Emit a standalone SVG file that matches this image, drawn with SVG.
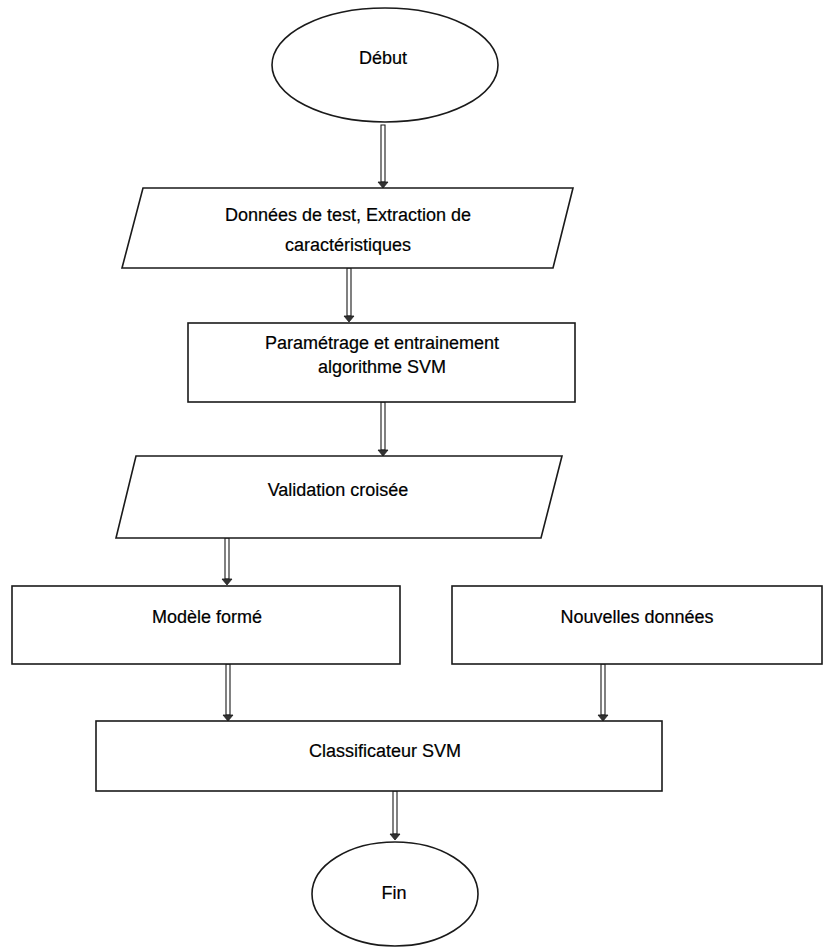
<svg xmlns="http://www.w3.org/2000/svg" width="826" height="947" viewBox="0 0 826 947">
  <defs>
    <style>
      .shape { fill: #ffffff; stroke: #1a1a1a; stroke-width: 1.6; }
      .label { font-family: "Liberation Sans", Arial, sans-serif; font-size: 18px; fill: #000000; text-anchor: middle; stroke: #000000; stroke-width: 0.2; }
      .shaft { fill: #ffffff; stroke: #1a1a1a; stroke-width: 1.1; }
      .head { fill: #333333; stroke: #1a1a1a; stroke-width: 0.8; }
    </style>
  </defs>
  <rect width="826" height="947" fill="#ffffff"/>

  <!-- hollow shafts ending in small dark heads, all pointing down -->
  <g id="connectors">
    <path class="shaft" d="M381,125 H385 V182 H381 Z"/>
    <path class="head" d="M378,182 H388 L383,188 Z"/>
    <path class="shaft" d="M347,268 H351 V316 H347 Z"/>
    <path class="head" d="M344,316 H354 L349,322 Z"/>
    <path class="shaft" d="M381,402 H385 V450 H381 Z"/>
    <path class="head" d="M378,450 H388 L383,456 Z"/>
    <path class="shaft" d="M225,538 H229 V579 H225 Z"/>
    <path class="head" d="M222,579 H232 L227,585 Z"/>
    <path class="shaft" d="M226,664 H230 V715 H226 Z"/>
    <path class="head" d="M223,715 H233 L228,721 Z"/>
    <path class="shaft" d="M601,664 H605 V715 H601 Z"/>
    <path class="head" d="M598,715 H608 L603,721 Z"/>
    <path class="shaft" d="M393,791 H397 V834 H393 Z"/>
    <path class="head" d="M390,834 H400 L395,840 Z"/>
  </g>

  <g id="debut">
    <ellipse class="shape" cx="385" cy="65" rx="113" ry="57"/>
    <text class="label" x="383" y="64">Début</text>
  </g>

  <g id="donnees-test">
    <polygon class="shape" points="143,188 573,188 553,268 122,268"/>
    <text class="label" x="348" y="221">Données de test, Extraction de</text>
    <text class="label" x="348" y="251">caractéristiques</text>
  </g>

  <g id="parametrage">
    <rect class="shape" x="188" y="323" width="387" height="79"/>
    <text class="label" x="382" y="349">Paramétrage et entrainement</text>
    <text class="label" x="382" y="373">algorithme SVM</text>
  </g>

  <g id="validation">
    <polygon class="shape" points="136,456 562,456 541,538 116,538"/>
    <text class="label" x="338" y="496">Validation croisée</text>
  </g>

  <g id="modele">
    <rect class="shape" x="12" y="586" width="388" height="78"/>
    <text class="label" x="207" y="623">Modèle formé</text>
  </g>

  <g id="nouvelles">
    <rect class="shape" x="452" y="586" width="370" height="78"/>
    <text class="label" x="637" y="623">Nouvelles données</text>
  </g>

  <g id="classificateur">
    <rect class="shape" x="96" y="721" width="566" height="70"/>
    <text class="label" x="385" y="757">Classificateur SVM</text>
  </g>

  <g id="fin">
    <ellipse class="shape" cx="395" cy="894" rx="83" ry="52"/>
    <text class="label" x="394" y="899">Fin</text>
  </g>
</svg>
